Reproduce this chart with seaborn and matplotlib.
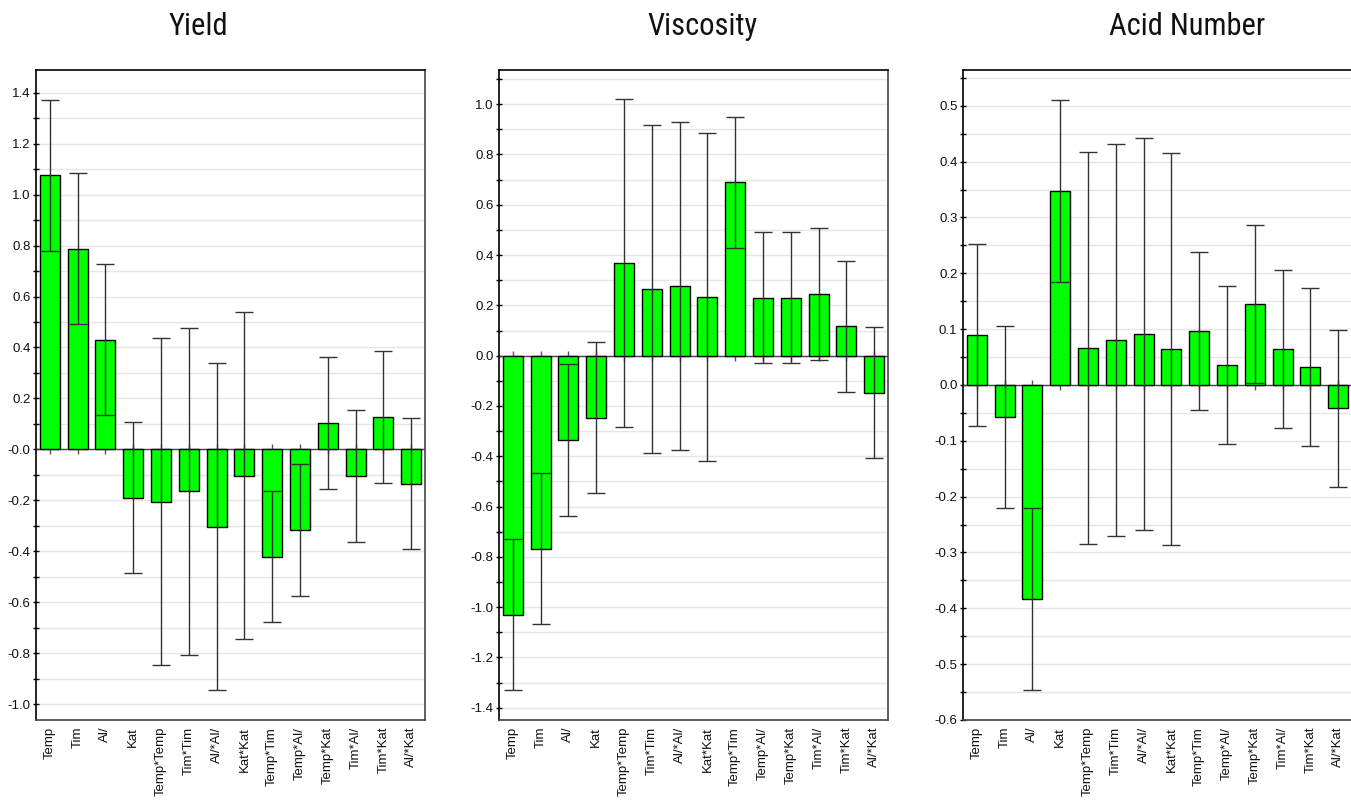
import numpy as np
import pandas as pd
import matplotlib
matplotlib.use("Agg")
import matplotlib.pyplot as plt
import seaborn as sns
from matplotlib import font_manager

# ---------------- data ----------------
terms = ["Temp", "Tim", "Al/", "Kat", "Temp*Temp", "Tim*Tim", "Al/*Al/", "Kat*Kat",
         "Temp*Tim", "Temp*Al/", "Temp*Kat", "Tim*Al/", "Tim*Kat", "Al/*Kat"]

titles = ["Yield", "Viscosity", "Acid Number"]

yield_coef = [1.076, 0.788, 0.431, -0.189, -0.205, -0.165, -0.303, -0.103,
              -0.421, -0.317, 0.103, -0.104, 0.128, -0.134]
yield_ci = [0.297, 0.297, 0.297, 0.297, 0.642, 0.642, 0.642, 0.642,
            0.258, 0.258, 0.258, 0.258, 0.258, 0.258]

visc_coef = [-1.030, -0.768, -0.336, -0.247, 0.369, 0.264, 0.278, 0.234,
             0.689, 0.231, 0.231, 0.245, 0.116, -0.147]
visc_ci = [0.301, 0.301, 0.301, 0.301, 0.652, 0.652, 0.652, 0.652,
           0.262, 0.262, 0.262, 0.262, 0.262, 0.262]

acid_coef = [0.090, -0.058, -0.384, 0.348, 0.066, 0.080, 0.091, 0.064,
             0.097, 0.036, 0.145, 0.064, 0.032, -0.042]
acid_ci = [0.163, 0.163, 0.163, 0.163, 0.351, 0.351, 0.351, 0.351,
           0.141, 0.141, 0.141, 0.141, 0.141, 0.141]

yield_ticks = [-1.0, -0.8, -0.6, -0.4, -0.2, 0.0, 0.2, 0.4, 0.6, 0.8, 1.0, 1.2, 1.4]
yield_ticklabels = ["-1.0", "-0.8", "-0.6", "-0.4", "-0.2", "-0.0", "0.2", "0.4",
                    "0.6", "0.8", "1.0", "1.2", "1.4"]
visc_ticks = [-1.4, -1.2, -1.0, -0.8, -0.6, -0.4, -0.2, 0.0, 0.2, 0.4, 0.6, 0.8, 1.0]
visc_ticklabels = ["-1.4", "-1.2", "-1.0", "-0.8", "-0.6", "-0.4", "-0.2", "0.0",
                   "0.2", "0.4", "0.6", "0.8", "1.0"]
acid_ticks = [-0.6, -0.5, -0.4, -0.3, -0.2, -0.1, 0.0, 0.1, 0.2, 0.3, 0.4, 0.5]
acid_ticklabels = ["-0.6", "-0.5", "-0.4", "-0.3", "-0.2", "-0.1", "0.0", "0.1",
                   "0.2", "0.3", "0.4", "0.5"]

# ---------------- style ----------------
sns.set_style("white")
plt.rcParams["font.family"] = ["Liberation Sans", "DejaVu Sans"]

available = {f.name for f in font_manager.fontManager.ttflist}
title_family = "Liberation Sans"
title_size = 20.5
for cand in ["Liberation Sans Narrow", "Roboto Condensed", "Open Sans Condensed"]:
    if cand in available:
        title_family = cand
        title_size = 22
        break

fig = plt.figure(figsize=(13.51, 8.0), dpi=100)

W, H = 1351.0, 800.0
panels = [
    dict(left=36, coef=yield_coef, ci=yield_ci, ylim=(-1.062, 1.489), minor=0.1,
         ticks=yield_ticks, labels=yield_ticklabels, title_x=198),
    dict(left=499, coef=visc_coef, ci=visc_ci, ylim=(-1.449, 1.136), minor=0.1,
         ticks=visc_ticks, labels=visc_ticklabels, title_x=702),
    dict(left=963, coef=acid_coef, ci=acid_ci, ylim=(-0.600, 0.564), minor=0.05,
         ticks=acid_ticks, labels=acid_ticklabels, title_x=1187),
]

for p, title in zip(panels, titles):
    ax = fig.add_axes([p["left"] / W, 1 - 720 / H, 389 / W, 650 / H])
    df = pd.DataFrame({"term": terms, "coef": p["coef"], "ci": p["ci"]})
    x = np.arange(len(terms))

    # zero line with small category ticks (under bars)
    ax.axhline(0, color="#444444", lw=1.0, zorder=1)
    ax.plot(x, np.zeros(len(terms)), ls="none", marker="|", ms=7, mew=1.0,
            color="#555555", zorder=1)

    sns.barplot(data=df, x="term", y="coef", order=terms, color="#00ff00",
                saturation=1, width=0.72, edgecolor="black", linewidth=1.0,
                errorbar=None, ax=ax, zorder=2)

    ax.errorbar(x, df["coef"], yerr=df["ci"], fmt="none", ecolor="#333333",
                elinewidth=1.0, capsize=6.8, capthick=1.0, zorder=3)

    ax.set_xlim(-0.5, len(terms) - 0.5)
    ax.set_ylim(*p["ylim"])

    lo, hi = p["ylim"]
    step = p["minor"]
    minor = np.arange(np.ceil(lo / step - 1e-6) * step, hi + 1e-9, step)
    ax.set_yticks(minor, minor=True)
    ax.set_yticks(p["ticks"])
    ax.set_yticklabels(p["labels"])
    ax.yaxis.grid(True, which="both", color="#e6e6e6", lw=1.0, zorder=0)
    ax.xaxis.grid(False)
    ax.set_axisbelow(True)

    ax.tick_params(axis="y", which="both", direction="inout", length=5, width=1,
                   color="black", left=True, labelsize=9.5, pad=1.5,
                   labelcolor="#111111")
    ax.tick_params(axis="x", which="both", length=0, labelsize=9.5, pad=5,
                   labelcolor="#111111")
    plt.setp(ax.get_xticklabels(), rotation=90)

    ax.set_xlabel("")
    ax.set_ylabel("")

    for side in ["left", "top"]:
        ax.spines[side].set_color("black")
        ax.spines[side].set_linewidth(1.2)
    for side in ["right", "bottom"]:
        ax.spines[side].set_color("#444444")
        ax.spines[side].set_linewidth(1.2)

    fig.text(p["title_x"] / W, 1 - 35 / H, title, ha="center", va="baseline",
             fontsize=title_size, color="#111111", family=[title_family, "DejaVu Sans"])

fig.savefig("out.png", dpi=100)
